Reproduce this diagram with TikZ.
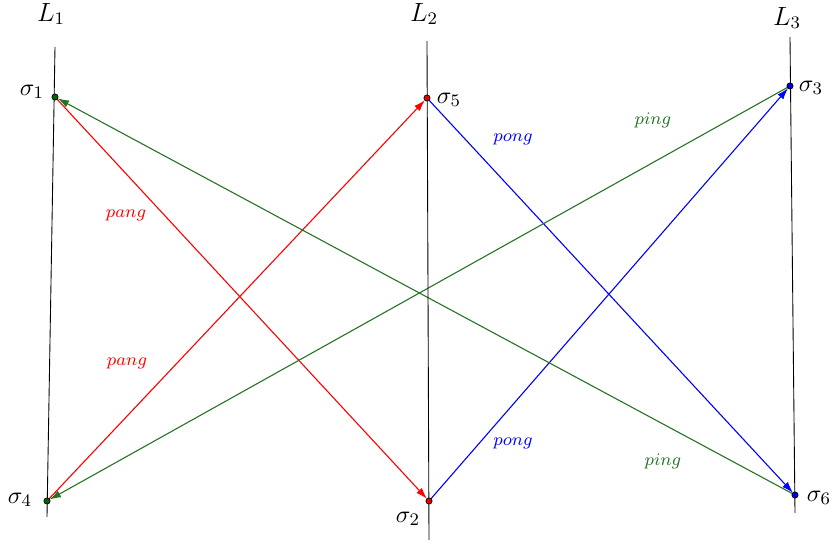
\documentclass[tikz,border=0pt]{standalone}
\usepackage[dvipsnames]{xcolor}
\usepackage{tikz-network}

\begin{document}
\begin{tikzpicture}
    \pgfmathsetmacro{\width}{13.312}
    \pgfmathsetmacro{\height}{8.704}
    \tikzset{tag/.style={font=\footnotesize},state/.style={font=\fontsize{11}{13}\selectfont},dot/.style={line width=0.3pt,inner sep=0pt,minimum size=0.1cm},msg/.style={-{Latex[length=1.8mm,width=1.2mm]}}}
    \useasboundingbox (0,0) rectangle (\width,\height);
    % the three lines
    \coordinate (T1) at (0.880,7.952);
\coordinate (B1) at (0.752,0.432);
\coordinate (T2) at (6.832,8.048);
\coordinate (B2) at (6.864,0.064);
\coordinate (T3) at (12.640,8.112);
\coordinate (B3) at (12.720,0.496);
\draw[line width=0.4pt] (T1) -- (B1);
\draw[line width=0.4pt] (T2) -- (B2);
\draw[line width=0.4pt] (T3) -- (B3);
\node[font=\large] (L1) at (0.816,8.480) {$L_1$};
\node[font=\large] (L2) at (6.784,8.480) {$L_2$};
\node[font=\large] (L3) at (12.592,8.416) {$L_3$};
    % states
    \Vertex[RGB,color={0,100,0},size=0.1,NoLabel,style={dot},x=0.880,y=7.152]{s1};
\Vertex[RGB,color={0,100,0},size=0.1,NoLabel,style={dot},x=0.752,y=0.688]{s4};
\Vertex[RGB,color={230,0,0},size=0.1,NoLabel,style={dot},x=6.832,y=7.136]{s5};
\Vertex[RGB,color={230,0,0},size=0.1,NoLabel,style={dot},x=6.864,y=0.688]{s2};
\Vertex[RGB,color={0,0,230},size=0.1,NoLabel,style={dot},x=12.640,y=7.328]{s3};
\Vertex[RGB,color={0,0,230},size=0.1,NoLabel,style={dot},x=12.720,y=0.784]{s6};
\node[state] (n1) at (0.512,7.232) {$\sigma_1$};
\node[state] (n5) at (7.184,7.104) {$\sigma_5$};
\node[state] (n3) at (12.976,7.296) {$\sigma_3$};
\node[state] (n4) at (0.320,0.704) {$\sigma_4$};
\node[state] (n2) at (6.528,0.400) {$\sigma_2$};
\node[state] (n6) at (13.104,0.736) {$\sigma_6$};
    % messages
    \Edge[Direct,RGB,color={255,0,0},lw=0.5,style={msg}](s1)(s2);
\Edge[Direct,RGB,color={255,0,0},lw=0.5,style={msg}](s4)(s5);
\Edge[Direct,RGB,color={0,0,255},lw=0.5,style={msg}](s5)(s6);
\Edge[Direct,RGB,color={0,0,255},lw=0.5,style={msg}](s2)(s3);
\Edge[Direct,RGB,color={38,115,38},lw=0.5,style={msg}](s3)(s4);
\Edge[Direct,RGB,color={38,115,38},lw=0.5,style={msg}](s6)(s1);
\node[tag,text=red] (pa1) at (2.016,5.264) {$pang$};
\node[tag,text=red] (pa2) at (2.032,2.896) {$pang$};
\node[tag,text=blue] (po1) at (8.208,6.480) {$pong$};
\node[tag,text=blue] (po2) at (8.208,1.616) {$pong$};
\node[tag,text={rgb,255:red,38;green,115;blue,38}] (pi1) at (10.448,6.784) {$ping$};
\node[tag,text={rgb,255:red,38;green,115;blue,38}] (pi2) at (10.608,1.328) {$ping$};

\end{tikzpicture}
\end{document}
